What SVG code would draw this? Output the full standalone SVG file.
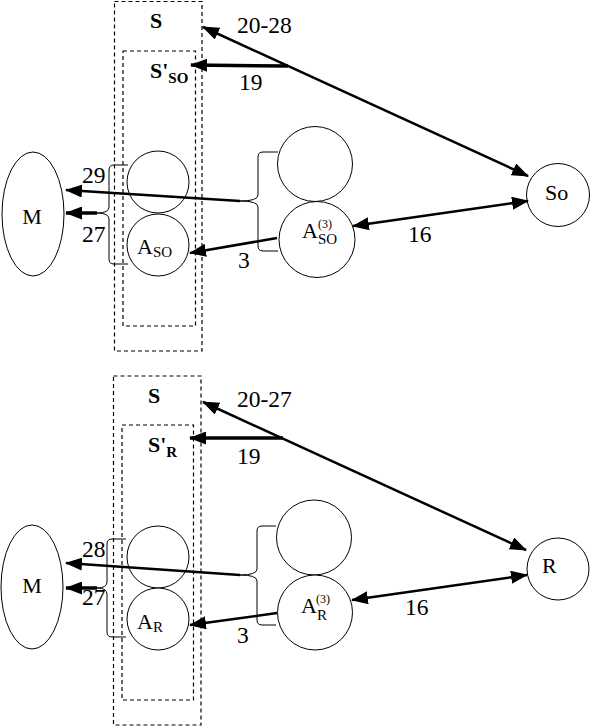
<svg xmlns="http://www.w3.org/2000/svg" width="591" height="727" viewBox="0 0 591 727" font-family="'Liberation Serif','DejaVu Serif','Times New Roman',serif">
<defs>
<style>
.box{fill:none;stroke:#000;stroke-width:1.2;stroke-dasharray:4 3}
.c{fill:#fff;stroke:#000;stroke-width:1}
.br{fill:none;stroke:#000;stroke-width:1}
.ar{fill:none;stroke:#000;stroke-width:2.5;marker-end:url(#ah)}
.dar{fill:none;stroke:#000;stroke-width:2.5;marker-end:url(#ah);marker-start:url(#ahs)}
.thick{stroke-width:3.5}
text{font-family:'Liberation Serif','DejaVu Serif','Times New Roman',serif;fill:#000;font-size:22px}
.n{font-size:23.5px}
.b{font-weight:bold}
.sub{font-size:15px}
.sup{font-size:12px}
</style>
<marker id="ah" markerUnits="userSpaceOnUse" markerWidth="17" markerHeight="13" refX="16" refY="6.5" orient="auto"><path d="M0,0 L17,6.5 L0,13 z" fill="#000"/></marker>
<marker id="ahs" markerUnits="userSpaceOnUse" markerWidth="17" markerHeight="13" refX="16" refY="6.5" orient="auto-start-reverse"><path d="M0,0 L17,6.5 L0,13 z" fill="#000"/></marker>
</defs>

<!-- TOP SECTION -->
<g id="S-top"><rect class="box" x="114.5" y="1.5" width="87.5" height="349.5"/><text class="b" x="150" y="28">S</text></g>
<g id="Sprime-SO"><rect class="box" x="123" y="51" width="72.5" height="275"/><text class="b" x="150" y="78">S'<tspan class="sub" dy="5">SO</tspan></text></g>
<g id="M-top"><ellipse class="c" cx="33" cy="214" rx="31" ry="62"/><text x="32" y="224" text-anchor="middle">M</text></g>
<g id="L1-top"><circle class="c" cx="158" cy="182" r="31"/></g>
<g id="ASO"><circle class="c" cx="158" cy="245" r="31"/><text x="137" y="254">A<tspan class="sub" dy="3">SO</tspan></text></g>
<g id="R1-top"><circle class="c" cx="315" cy="164" r="37.5"/></g>
<g id="A3SO"><circle class="c" cx="317" cy="239.5" r="38"/><text x="302" y="238">A</text><text class="sup" x="318" y="228">(3)</text><text class="sub" x="318" y="244">SO</text></g>
<g id="So"><circle class="c" cx="558" cy="195" r="31.5"/><text x="545" y="200">So</text></g>

<!-- BOTTOM SECTION -->
<g id="S-bot"><rect class="box" x="113.5" y="376" width="87.5" height="349"/><text class="b" x="148" y="403">S</text></g>
<g id="Sprime-R"><rect class="box" x="122" y="425" width="71.5" height="275"/><text class="b" x="148" y="452">S'<tspan class="sub" dy="5">R</tspan></text></g>
<g id="M-bot"><ellipse class="c" cx="32" cy="587" rx="31" ry="62"/><text x="32" y="593" text-anchor="middle">M</text></g>
<g id="L1-bot"><circle class="c" cx="158" cy="557" r="31"/></g>
<g id="AR"><circle class="c" cx="158" cy="619" r="31"/><text x="137" y="629">A<tspan class="sub" dy="3">R</tspan></text></g>
<g id="R1-bot"><circle class="c" cx="314" cy="537.5" r="37.5"/></g>
<g id="A3R"><circle class="c" cx="315" cy="612.5" r="37.5"/><text x="301" y="613">A</text><text class="sup" x="316" y="603">(3)</text><text class="sub" x="317" y="620">R</text></g>
<g id="R"><circle class="c" cx="558" cy="569" r="31"/><text x="542" y="573">R</text></g>

<!-- CONNECTORS -->
<g id="connectors">
<path class="br" d="M128,165 H114 Q109,165 109,170 V207 Q109,213 97,213 Q109,213 109,219 V259 Q109,264 114,264 H128"/>
<path class="br" d="M278,152 H263 Q258,152 258,157 V195 Q258,201 240,201 Q258,201 258,207 V246 Q258,251 263,251 H278"/>
<path class="br" d="M126,539 H112 Q107,539 107,544 V582 Q107,588 97,588 Q107,588 107,594 V632 Q107,637 112,637 H126"/>
<path class="br" d="M276,526 H262 Q257,526 257,531 V569 Q257,575 240,575 Q257,575 257,581 V620 Q257,625 262,625 H276"/>

<line class="dar" x1="203" y1="27" x2="528" y2="176"/>
<line class="ar thick" x1="288" y1="66" x2="191" y2="65"/>
<line class="ar" x1="240" y1="201" x2="66" y2="190"/>
<line class="ar thick" x1="97" y1="213" x2="66" y2="213"/>
<line class="ar" x1="277" y1="238" x2="190" y2="253"/>
<line class="dar" x1="353" y1="226" x2="528" y2="201"/>

<line class="dar" x1="203" y1="402" x2="526" y2="550"/>
<line class="ar thick" x1="283" y1="438" x2="190" y2="438"/>
<line class="ar" x1="240" y1="575" x2="66" y2="563"/>
<line class="ar thick" x1="97" y1="588" x2="66" y2="588"/>
<line class="ar" x1="277" y1="613" x2="190" y2="625"/>
<line class="dar" x1="352" y1="600" x2="527" y2="575"/>

<text class="n" x="237" y="33">20-28</text>
<text class="n" x="239" y="90">19</text>
<text class="n" x="82" y="183">29</text>
<text class="n" x="82" y="242">27</text>
<text class="n" x="238" y="268">3</text>
<text class="n" x="408" y="242">16</text>
<text class="n" x="237" y="407">20-27</text>
<text class="n" x="237" y="464">19</text>
<text class="n" x="82" y="557">28</text>
<text class="n" x="82" y="605">27</text>
<text class="n" x="237" y="643">3</text>
<text class="n" x="405" y="615">16</text>
</g>
</svg>
